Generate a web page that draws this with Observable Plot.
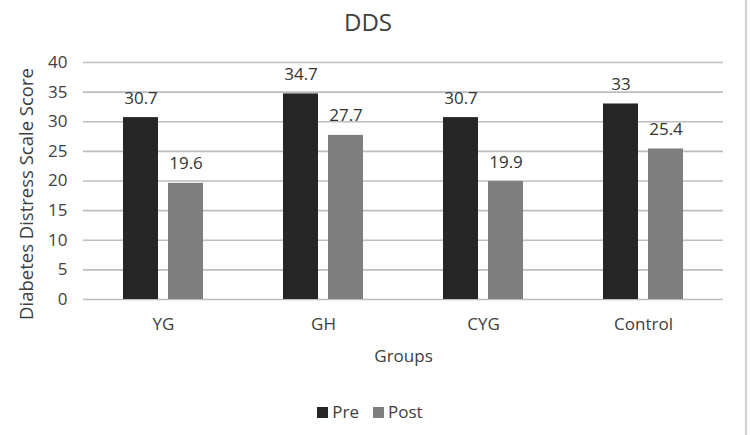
<!DOCTYPE html>
<html>
<head>
<meta charset="utf-8">
<script src="https://cdn.jsdelivr.net/npm/d3@7"></script>
<script src="https://cdn.jsdelivr.net/npm/@observablehq/plot@0.6"></script>
<style>
  html, body { margin: 0; padding: 0; background: #fff; }
  #chart { position: relative; width: 750px; height: 435px; font-family: "Open Sans", sans-serif; color: #404040; overflow: hidden; }
  #title { position: absolute; left: 0; top: 0; width: 736px; text-align: center; font-size: 24px; line-height: 44px; height: 44px; }
  #plot { position: absolute; left: 0; top: 44px; }
  #ylabel { position: absolute; left: 26px; top: 194px; transform: translate(-50%, -50%) rotate(-90deg); white-space: nowrap; font-size: 18.5px; line-height: 20px; }
  #legend { position: absolute; left: 0; top: 400px; width: 740px; display: flex; justify-content: center; gap: 14px; font-size: 17px; line-height: 24px; }
  #legend span.item { display: flex; align-items: center; gap: 4px; }
  #legend span.sw { display: inline-block; width: 11px; height: 11px; }
  #edge { position: absolute; left: 745px; top: 0; width: 2px; height: 435px; background: #cfcfcf; }
</style>
</head>
<body>
<div id="chart">
  <div id="title">DDS</div>
  <div id="plot"></div>
  <div id="ylabel">Diabetes Distress Scale Score</div>
  <div id="legend"></div>
  <div id="edge"></div>
</div>
<script>
// Diabetes Distress Scale scores, before and after, per group
const groups = ["YG", "GH", "CYG", "Control"];
const series = ["Pre", "Post"];
const preValues = [30.7, 34.7, 30.7, 33];
const postValues = [19.6, 27.7, 19.9, 25.4];
const seriesColors = ["#262626", "#7f7f7f"];
const yTicks = [0, 5, 10, 15, 20, 25, 30, 35, 40];

const rows = groups.flatMap((g, i) => [
  {group: g, phase: series[0], value: preValues[i]},
  {group: g, phase: series[1], value: postValues[i]}
]);

// one facet per group, tiled edge to edge so the gridlines run unbroken;
// the pair of bars sits centred inside each facet
const plot = Plot.plot({
  width: 750,
  height: 330,
  marginTop: 18,
  marginBottom: 75,
  marginLeft: 82,
  marginRight: 26,
  style: {fontFamily: "'Open Sans', sans-serif", fontSize: "17px", color: "#404040", background: "transparent"},
  fx: {
    domain: groups,
    padding: 0,
    label: "Groups",
    labelAnchor: "center",
    labelOffset: 62,
    tickSize: 0,
    tickPadding: 18
  },
  x: {domain: series, axis: null, paddingInner: 0.217, paddingOuter: 0.853},
  y: {
    domain: [0, 40],
    ticks: yTicks,
    tickSize: 0,
    tickPadding: 16,
    label: null
  },
  color: {domain: series, range: seriesColors},
  marks: [
    Plot.gridY(yTicks, {stroke: "#bdbdbd", strokeOpacity: 1, strokeWidth: 1.6}),
    Plot.barY(rows, {fx: "group", x: "phase", y: "value", fill: "phase"}),
    Plot.text(rows, {
      fx: "group", x: "phase", y: "value", text: d => String(d.value),
      lineAnchor: "bottom", dy: -14, fontSize: 17, fill: "#333"
    })
  ]
});
document.getElementById("plot").appendChild(plot);

// legend below the chart
const legend = document.getElementById("legend");
series.forEach((s, i) => {
  const item = document.createElement("span");
  item.className = "item";
  const sw = document.createElement("span");
  sw.className = "sw";
  sw.style.background = seriesColors[i];
  item.appendChild(sw);
  item.appendChild(document.createTextNode(s));
  legend.appendChild(item);
});
</script>
</body>
</html>
